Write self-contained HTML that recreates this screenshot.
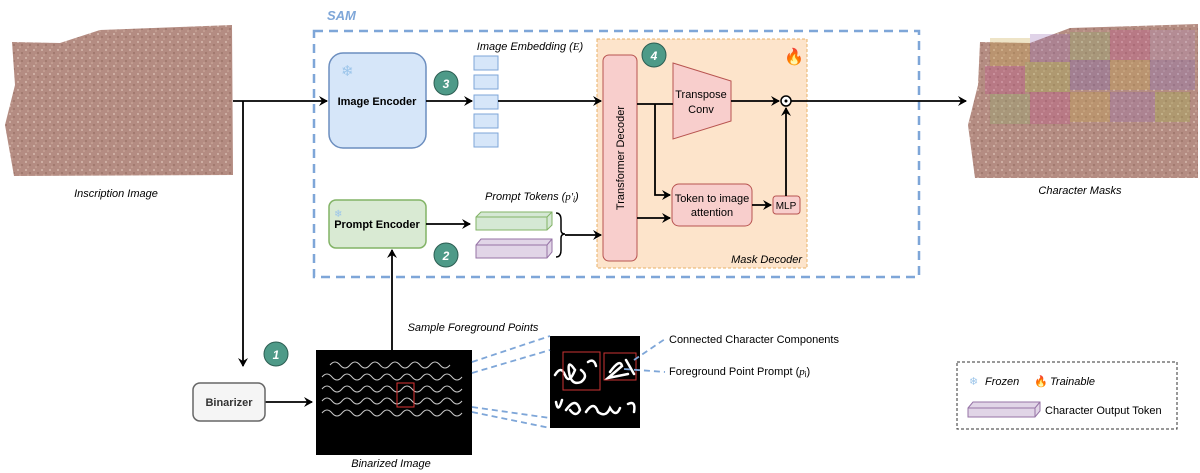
<!DOCTYPE html>
<html><head><meta charset="utf-8"><style>
html,body{margin:0;padding:0;background:#fff}
svg{display:block;font-family:"Liberation Sans",sans-serif}
</style></head><body>
<svg width="1200" height="473" viewBox="0 0 1200 473" xmlns="http://www.w3.org/2000/svg">
<defs>
<marker id="ah" markerWidth="10" markerHeight="10" refX="8" refY="5" orient="auto" markerUnits="userSpaceOnUse"><path d="M0,0 L9,5 L0,10 L3,5 z" fill="#000"/></marker>
<pattern id="tex" width="8" height="8" patternUnits="userSpaceOnUse"><rect width="8" height="8" fill="#b48c82"/><circle cx="2" cy="2" r="1" fill="#d6b9ae"/><circle cx="6" cy="5" r="1" fill="#9c7469"/><circle cx="4" cy="7" r="0.8" fill="#cfae9f"/></pattern>
</defs>
<path d="M12,42 L60,43 L100,30 L232,25 L233,175 L14,176 L5,125 L15,85 Z" fill="url(#tex)"/>
<text x="116" y="197" font-size="11" font-style="italic" text-anchor="middle">Inscription Image</text>
<path d="M980,42 L1030,43 L1070,28 L1198,24 L1198,178 L975,178 L968,125 L978,85 Z" fill="url(#tex)"/>
<g opacity="0.3">
<rect x="990" y="38" width="40" height="28" fill="#c9a94a"/><rect x="1030" y="34" width="40" height="28" fill="#9a6fb5"/><rect x="1070" y="32" width="40" height="28" fill="#8fb26a"/><rect x="1110" y="30" width="40" height="30" fill="#c24f8d"/><rect x="1150" y="30" width="45" height="30" fill="#b48fbf"/>
<rect x="985" y="66" width="40" height="28" fill="#c24f8d"/><rect x="1025" y="62" width="45" height="30" fill="#a6b84a"/><rect x="1070" y="60" width="40" height="30" fill="#7a63b5"/><rect x="1110" y="60" width="40" height="30" fill="#c9a94a"/><rect x="1150" y="60" width="45" height="30" fill="#8a6fc0"/>
<rect x="990" y="94" width="40" height="30" fill="#8fb26a"/><rect x="1030" y="92" width="40" height="32" fill="#c24f8d"/><rect x="1070" y="92" width="40" height="30" fill="#c9a94a"/><rect x="1110" y="92" width="45" height="30" fill="#9a6fb5"/><rect x="1155" y="92" width="35" height="30" fill="#a6b84a"/>
</g>
<text x="1080" y="194" font-size="11" font-style="italic" text-anchor="middle">Character Masks</text>

<text x="327" y="20" font-size="13" font-weight="bold" font-style="italic" fill="#7ea6d8">SAM</text>
<rect x="314" y="31" width="605" height="246" fill="none" stroke="#7ea6d8" stroke-width="2.5" stroke-dasharray="9,6"/>
<rect x="597" y="39" width="210" height="229" fill="#fde4cb" stroke="#e8b26a" stroke-width="1" stroke-dasharray="3,2"/>
<text x="802" y="263" font-size="11" font-style="italic" text-anchor="end">Mask Decoder</text>
<text x="784" y="62" font-size="16">🔥</text>

<rect x="329" y="53" width="97" height="95" rx="14" fill="#d6e6f9" stroke="#6c8ebf" stroke-width="1.5"/>
<text x="341" y="76" font-size="15" fill="#9cc5ea">❄</text>
<text x="377" y="105" font-size="11" font-weight="bold" text-anchor="middle">Image Encoder</text>
<rect x="329" y="200" width="97" height="48" rx="7" fill="#d9ead3" stroke="#82b366" stroke-width="1.5"/>
<text x="334" y="217" font-size="10" fill="#9cc5ea">❄</text>
<text x="377" y="228" font-size="11" font-weight="bold" text-anchor="middle">Prompt Encoder</text>

<g font-size="12" font-weight="bold" font-style="italic" fill="#fff" text-anchor="middle">
<circle cx="446" cy="83" r="12" fill="#4e9a88" stroke="#2c5d52" stroke-width="1"/><text x="446" y="88">3</text>
<circle cx="446" cy="255" r="12" fill="#4e9a88" stroke="#2c5d52" stroke-width="1"/><text x="446" y="260">2</text>
<circle cx="654" cy="55" r="12" fill="#4e9a88" stroke="#2c5d52" stroke-width="1"/><text x="654" y="60">4</text>
<circle cx="276" cy="354" r="12" fill="#4e9a88" stroke="#2c5d52" stroke-width="1"/><text x="276" y="359">1</text>
</g>

<text x="530" y="50" font-size="11" font-style="italic" text-anchor="middle">Image Embedding (<tspan font-family="Liberation Serif">E</tspan>)</text>
<g fill="#d6e6f9" stroke="#7ea6d8" stroke-width="1">
<rect x="474" y="56" width="24" height="14"/><rect x="474" y="75" width="24" height="14"/><rect x="474" y="95" width="24" height="14"/><rect x="474" y="114" width="24" height="14"/><rect x="474" y="133" width="24" height="14"/>
</g>

<text x="485" y="200" font-size="11" font-style="italic">Prompt Tokens (<tspan font-family="Liberation Serif">p'</tspan><tspan font-size="8" dy="2">i</tspan><tspan dy="-2">)</tspan></text>
<path d="M476,217 L481,212 L552,212 L552,225 L547,230 L476,230 Z" fill="#d5e8d4" stroke="#82b366"/>
<path d="M476,217 L547,217 L552,212 M547,217 L547,230" fill="none" stroke="#82b366"/>
<path d="M476,245 L481,239 L552,239 L552,252 L547,258 L476,258 Z" fill="#e1d5e7" stroke="#9673a6"/>
<path d="M476,245 L547,245 L552,239 M547,245 L547,258" fill="none" stroke="#9673a6"/>
<path d="M556,213 Q561,213 561,220 L561,230 Q561,234 565,234 Q561,234 561,238 L561,250 Q561,257 556,257" fill="none" stroke="#000" stroke-width="1.5"/>

<rect x="603" y="55" width="34" height="206" rx="6" fill="#f8cecc" stroke="#b85450" stroke-width="1"/>
<text transform="translate(624,158) rotate(-90)" font-size="11" text-anchor="middle">Transformer Decoder</text>
<path d="M673,63 L731,81 L731,121 L673,139 Z" fill="#f8cecc" stroke="#b85450"/>
<text x="701" y="98" font-size="11" text-anchor="middle">Transpose</text>
<text x="701" y="113" font-size="11" text-anchor="middle">Conv</text>
<rect x="672" y="184" width="80" height="42" rx="7" fill="#f8cecc" stroke="#b85450"/>
<text x="712" y="202" font-size="11" text-anchor="middle">Token to image</text>
<text x="712" y="216" font-size="11" text-anchor="middle">attention</text>
<rect x="773" y="196" width="27" height="18" rx="3" fill="#f8cecc" stroke="#b85450"/>
<text x="786" y="209" font-size="10" text-anchor="middle">MLP</text>
<circle cx="786" cy="101" r="5" fill="#fff" stroke="#000" stroke-width="1.5"/><circle cx="786" cy="101" r="1.5" fill="#000"/>

<g stroke="#000" stroke-width="1.8" fill="none">
<line x1="233" y1="101" x2="327" y2="101" marker-end="url(#ah)"/>
<line x1="426" y1="101" x2="472" y2="101" marker-end="url(#ah)"/>
<line x1="498" y1="101" x2="601" y2="101" marker-end="url(#ah)"/>
<line x1="637" y1="104" x2="673" y2="104"/>
<line x1="731" y1="101" x2="779" y2="101" marker-end="url(#ah)"/>
<line x1="791" y1="101" x2="966" y2="101" marker-end="url(#ah)"/>
<polyline points="655,104 655,195 670,195" marker-end="url(#ah)"/>
<line x1="637" y1="218" x2="670" y2="218" marker-end="url(#ah)"/>
<line x1="752" y1="205" x2="771" y2="205" marker-end="url(#ah)"/>
<line x1="786" y1="196" x2="786" y2="108" marker-end="url(#ah)"/>
<line x1="426" y1="224" x2="470" y2="224" marker-end="url(#ah)"/>
<line x1="565" y1="235" x2="601" y2="235" marker-end="url(#ah)"/>
<line x1="243" y1="101" x2="243" y2="366" marker-end="url(#ah)"/>
<line x1="265" y1="402" x2="312" y2="402" marker-end="url(#ah)"/>
<line x1="392" y1="350" x2="392" y2="250" marker-end="url(#ah)"/>
</g>

<rect x="193" y="383" width="72" height="38" rx="7" fill="#f5f5f5" stroke="#666" stroke-width="1.5"/>
<text x="229" y="406" font-size="11" font-weight="bold" fill="#333" text-anchor="middle">Binarizer</text>

<rect x="316" y="350" width="156" height="105" fill="#000"/>
<g stroke="#ddd" stroke-width="1" fill="none" opacity="0.9">
<path d="M330,365 q5,-6 10,0 t10,0 t10,0 t10,0 t10,0 t10,0 t10,0 t10,0 t10,0 t10,0 t10,0 t10,0"/>
<path d="M322,377 q5,-6 10,0 t10,0 t10,0 t10,0 t10,0 t10,0 t10,0 t10,0 t10,0 t10,0 t10,0 t10,0 t10,0 t10,0"/>
<path d="M322,389 q5,-6 10,0 t10,0 t10,0 t10,0 t10,0 t10,0 t10,0 t10,0 t10,0 t10,0 t10,0 t10,0 t10,0 t10,0"/>
<path d="M322,401 q5,-6 10,0 t10,0 t10,0 t10,0 t10,0 t10,0 t10,0 t10,0 t10,0 t10,0 t10,0 t10,0 t10,0 t10,0"/>
<path d="M322,413 q5,-6 10,0 t10,0 t10,0 t10,0 t10,0 t10,0 t10,0 t10,0 t10,0 t10,0 t10,0 t10,0 t10,0 t10,0"/>
</g>
<rect x="397" y="383" width="17" height="24" fill="none" stroke="#d33" stroke-width="1"/>
<text x="391" y="467" font-size="11" font-style="italic" text-anchor="middle">Binarized Image</text>
<text x="473" y="331" font-size="11" font-style="italic" text-anchor="middle">Sample Foreground Points</text>

<rect x="550" y="336" width="90" height="92" fill="#000"/>
<g stroke="#fff" stroke-width="2.5" fill="none" stroke-linecap="round">
<path d="M555,375 q6,-10 10,0 q4,10 10,-5 q-8,-12 -6,2 q2,14 12,10 q8,-6 0,-12 M588,362 q6,-4 8,4"/>
<path d="M610,372 q10,-14 12,-6 l-14,12 q10,-2 20,-4 M626,360 l8,14"/>
<path d="M556,402 q2,12 6,-2 M566,410 q10,-14 14,0 q-4,8 -10,0 M586,412 q8,-12 12,0 q8,6 12,-4 q6,10 10,0 M628,404 q8,-4 6,8"/>
</g>
<rect x="563" y="352" width="37" height="38" fill="none" stroke="#c33" stroke-width="1"/>
<rect x="604" y="353" width="32" height="27" fill="none" stroke="#c33" stroke-width="1"/>

<g stroke="#7ea6d8" stroke-width="1.8" stroke-dasharray="6,4" fill="none">
<line x1="472" y1="362" x2="550" y2="336"/>
<line x1="472" y1="373" x2="550" y2="350"/>
<line x1="472" y1="407" x2="550" y2="418"/>
<line x1="472" y1="412" x2="550" y2="428"/>
<line x1="634" y1="360" x2="665" y2="339"/>
<line x1="624" y1="369" x2="665" y2="372"/>
</g>
<text x="669" y="343" font-size="11">Connected Character Components</text>
<text x="669" y="375" font-size="11">Foreground Point Prompt (<tspan font-family="Liberation Serif" font-style="italic">p</tspan><tspan font-size="8" dy="2">i</tspan><tspan dy="-2">)</tspan></text>

<rect x="957" y="362" width="220" height="67" fill="#fff" stroke="#333" stroke-width="1" stroke-dasharray="3,2"/>
<text x="969" y="385" font-size="11" fill="#9cc5ea">❄</text>
<text x="985" y="385" font-size="11" font-style="italic">Frozen</text>
<text x="1034" y="385" font-size="11">🔥</text>
<text x="1050" y="385" font-size="11" font-style="italic">Trainable</text>
<path d="M968,408 L973,402 L1040,402 L1040,411 L1035,417 L968,417 Z" fill="#e1d5e7" stroke="#9673a6"/>
<path d="M968,408 L1035,408 L1040,402 M1035,408 L1035,417" fill="none" stroke="#9673a6"/>
<text x="1045" y="414" font-size="11">Character Output Token</text>
</svg>
</body></html>
